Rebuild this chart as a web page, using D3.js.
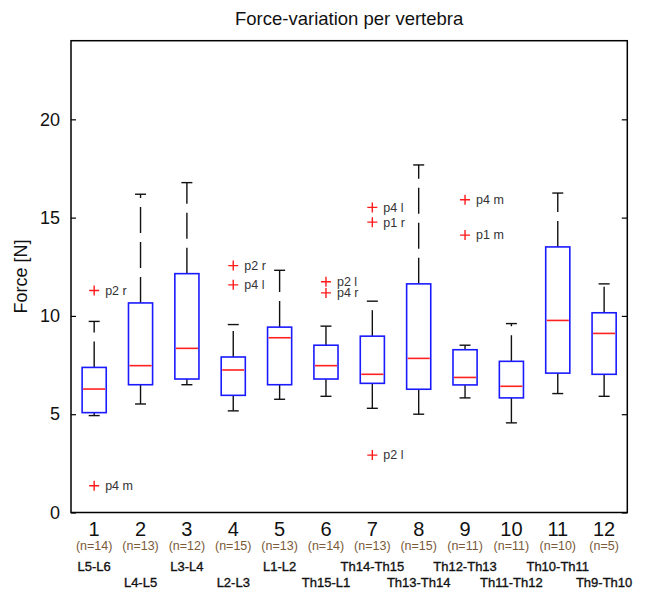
<!DOCTYPE html>
<html>
<head>
<meta charset="utf-8">
<script src="https://cdn.jsdelivr.net/npm/d3@7"></script>
<style>
  html, body { margin: 0; padding: 0; background: #fff; }
  svg { display: block; font-family: "Liberation Sans", Arial, sans-serif; }
</style>
</head>
<body>
<svg id="chart" width="647" height="591"></svg>
<script>
// ---- data ----
const categories = [1, 2, 3, 4, 5, 6, 7, 8, 9, 10, 11, 12];
const nValues = [14, 13, 12, 15, 13, 14, 13, 15, 11, 11, 10, 5];
const segments = ["L5-L6", "L4-L5", "L3-L4", "L2-L3", "L1-L2", "Th15-L1",
  "Th14-Th15", "Th13-Th14", "Th12-Th13", "Th11-Th12", "Th10-Th11", "Th9-Th10"];
const whiskerLow  = [4.93, 5.52, 6.50, 5.17, 5.76, 5.91, 5.30, 5.00, 5.83, 4.56, 6.05, 5.91];
const q1          = [5.08, 6.50, 6.79, 5.96, 6.50, 6.79, 6.57, 6.27, 6.49, 5.83, 7.09, 7.03];
const medians     = [6.28, 7.47, 8.35, 7.25, 8.89, 7.47, 7.03, 7.84, 6.87, 6.42, 9.77, 9.11];
const q3          = [7.38, 10.66, 12.15, 7.91, 9.43, 8.51, 8.97, 11.63, 8.28, 7.69, 13.51, 10.16];
const whiskerHigh = [9.72, 16.19, 16.78, 9.56, 12.32, 9.48, 10.75, 17.68, 8.51, 9.61, 16.25, 11.63];
const outlierCat   = [1, 1, 4, 4, 6, 6, 7, 7, 7, 9, 9];
const outlierVal   = [11.29, 1.36, 12.56, 11.58, 11.74, 11.17, 15.52, 14.77, 2.92, 15.91, 14.11];
const outlierLabel = ["p2 r", "p4 m", "p2 r", "p4 l", "p2 l", "p4 r", "p4 l", "p1 r", "p2 l", "p4 m", "p1 m"];
const yTicks = [0, 5, 10, 15, 20];
const titleText = "Force-variation per vertebra";
const yLabelText = "Force [N]";

// ---- layout ----
const svg = d3.select("#chart");
const pL = 71, pR = 627.3, pT = 40.7, pB = 512.5;
const x = d3.scaleLinear().domain([0.5, 12.5]).range([pL, pR]);
const y = d3.scaleLinear().domain([0, 24]).range([pB, pT]);
const boxW = (x(1) - x(0)) * 0.52;
const capW = 11;

const boxes = categories.map((c, i) => ({
  c, n: nValues[i], seg: segments[i],
  lo: whiskerLow[i], q1: q1[i], med: medians[i], q3: q3[i], hi: whiskerHigh[i]
}));

// title
svg.append("text")
  .attr("x", (pL + pR) / 2).attr("y", 25)
  .attr("text-anchor", "middle").attr("font-size", 18.5).attr("fill", "#111")
  .text(titleText);

// y label
svg.append("text")
  .attr("transform", `translate(26.5,${(pT + pB) / 2}) rotate(-90)`)
  .attr("text-anchor", "middle").attr("font-size", 18).attr("fill", "#111")
  .text(yLabelText);

// y axis ticks (inside) both sides
const yAxisL = d3.axisLeft(y).tickValues(yTicks).tickSize(-5).tickPadding(11).tickFormat(d3.format("d"));
const gL = svg.append("g").attr("transform", `translate(${pL},0)`).call(yAxisL);
gL.select(".domain").remove();
gL.selectAll("line").attr("stroke", "#000").attr("stroke-width", 1.2);
gL.selectAll("text").attr("font-size", 18).attr("fill", "#111")
  .attr("font-family", "Liberation Sans, Arial, sans-serif");

const yAxisR = d3.axisRight(y).tickValues(yTicks).tickSize(-5.5).tickFormat("");
const gR = svg.append("g").attr("transform", `translate(${pR},0)`).call(yAxisR);
gR.select(".domain").remove();
gR.selectAll("line").attr("stroke", "#000").attr("stroke-width", 1.2);

// frame
svg.append("rect")
  .attr("x", pL).attr("y", pT).attr("width", pR - pL).attr("height", pB - pT)
  .attr("fill", "none").attr("stroke", "#000").attr("stroke-width", 1.5);

// whiskers
const g = svg.append("g");
g.selectAll(".wup").data(boxes).join("line")
  .attr("x1", d => x(d.c)).attr("x2", d => x(d.c))
  .attr("y1", d => y(d.q3)).attr("y2", d => y(d.hi))
  .attr("stroke", "#111").attr("stroke-width", 1.4).attr("stroke-dasharray", "26,9");
g.selectAll(".wlo").data(boxes).join("line")
  .attr("x1", d => x(d.c)).attr("x2", d => x(d.c))
  .attr("y1", d => y(d.q1)).attr("y2", d => y(d.lo))
  .attr("stroke", "#111").attr("stroke-width", 1.4).attr("stroke-dasharray", "26,9");
g.selectAll(".cup").data(boxes).join("line")
  .attr("x1", d => x(d.c) - capW / 2).attr("x2", d => x(d.c) + capW / 2)
  .attr("y1", d => y(d.hi)).attr("y2", d => y(d.hi))
  .attr("stroke", "#111").attr("stroke-width", 1.4);
g.selectAll(".clo").data(boxes).join("line")
  .attr("x1", d => x(d.c) - capW / 2).attr("x2", d => x(d.c) + capW / 2)
  .attr("y1", d => y(d.lo)).attr("y2", d => y(d.lo))
  .attr("stroke", "#111").attr("stroke-width", 1.4);

// boxes
g.selectAll(".box").data(boxes).join("rect")
  .attr("x", d => x(d.c) - boxW / 2).attr("width", boxW)
  .attr("y", d => y(d.q3)).attr("height", d => y(d.q1) - y(d.q3))
  .attr("fill", "none").attr("stroke", "#1a1aff").attr("stroke-width", 1.6);

// medians
g.selectAll(".med").data(boxes).join("line")
  .attr("x1", d => x(d.c) - boxW / 2 + 1).attr("x2", d => x(d.c) + boxW / 2 - 1)
  .attr("y1", d => y(d.med)).attr("y2", d => y(d.med))
  .attr("stroke", "#ff2020").attr("stroke-width", 1.6);

// outliers
const outliers = outlierCat.map((c, i) => ({ c, v: outlierVal[i], label: outlierLabel[i] }));
const og = svg.append("g");
og.selectAll(".oh").data(outliers).join("path")
  .attr("d", d => `M${x(d.c) - 5},${y(d.v)}h10M${x(d.c)},${y(d.v) - 5}v10`)
  .attr("stroke", "#ff1a1a").attr("stroke-width", 1.4).attr("fill", "none");
og.selectAll(".ot").data(outliers).join("text")
  .attr("x", d => x(d.c) + 11).attr("y", d => y(d.v))
  .attr("dy", "0.35em").attr("font-size", 12.5).attr("fill", "#333")
  .text(d => d.label);

// category labels
const lg = svg.append("g").attr("text-anchor", "middle");
lg.selectAll(".num").data(boxes).join("text")
  .attr("x", d => x(d.c)).attr("y", 529).attr("dy", "0.36em")
  .attr("font-size", 20).attr("fill", "#111")
  .text(d => d.c);
lg.selectAll(".n").data(boxes).join("text")
  .attr("x", d => x(d.c)).attr("y", 546).attr("dy", "0.35em")
  .attr("font-size", 12.5).attr("fill", "#7a5a3a")
  .text(d => `(n=${d.n})`);
lg.selectAll(".seg").data(boxes).join("text")
  .attr("x", d => x(d.c)).attr("y", d => d.c % 2 === 1 ? 566.5 : 582)
  .attr("dy", "0.35em").attr("font-size", 13).attr("fill", "#111")
  .attr("stroke", "#111").attr("stroke-width", 0.35)
  .text(d => d.seg);
</script>
</body>
</html>
